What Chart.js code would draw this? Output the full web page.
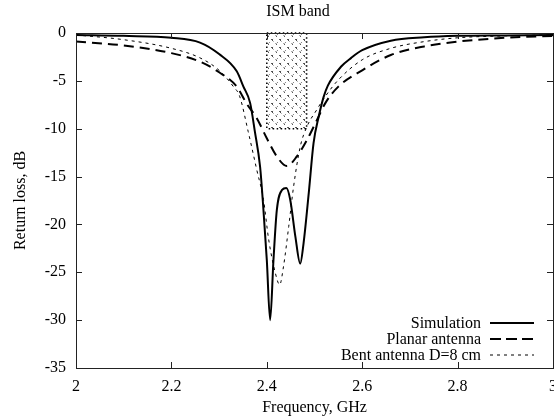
<!DOCTYPE html>
<html>
<head>
<meta charset="utf-8">
<script src="https://cdn.jsdelivr.net/npm/chart.js@4.4.1/dist/chart.umd.min.js"></script>
<style>
  html, body { margin: 0; padding: 0; background: #fff; }
  #wrap { width: 554px; height: 419px; }
</style>
</head>
<body>
<div id="wrap"><canvas id="grafica" width="554" height="419"></canvas></div>
<script>
// ─────────────────────────────────────────
// DATOS
// ─────────────────────────────────────────

const simFreq = [2.00, 2.10, 2.20, 2.26, 2.30, 2.337, 2.351, 2.365, 2.375, 2.386, 2.393, 2.400, 2.407,
                 2.414, 2.421, 2.432, 2.441, 2.449, 2.460, 2.470, 2.477, 2.488, 2.498, 2.509, 2.519,
                 2.528, 2.556, 2.577, 2.600, 2.66, 2.73, 2.80, 2.90, 3.00];
const simLoss = [-0.2, -0.3, -0.5, -1.0, -2.2, -4.0, -5.6, -7.3, -10.3, -14.0, -18.5, -23.7, -30.0,
                 -23.7, -18.5, -16.4, -16.2, -17.4, -21.3, -24.1, -22.0, -16.7, -11.5, -8.7, -6.7,
                 -5.5, -3.5, -2.6, -1.8, -0.8, -0.45, -0.3, -0.25, -0.2];

const planarFreq = [2.00, 2.10, 2.20, 2.26, 2.30, 2.337, 2.358, 2.379, 2.400, 2.421, 2.442, 2.463,
                    2.484, 2.505, 2.523, 2.55, 2.60, 2.66, 2.73, 2.80, 2.90, 3.00];
const planarLoss = [-0.9, -1.3, -2.1, -3.0, -4.1, -5.6, -7.4, -8.9, -11.0, -12.9, -13.9, -12.9,
                    -11.2, -9.1, -7.3, -5.6, -3.9, -2.3, -1.4, -0.9, -0.5, -0.3];

const bentFreq = [2.00, 2.10, 2.20, 2.26, 2.30, 2.33, 2.343, 2.361, 2.379, 2.393, 2.404, 2.418, 2.427,
                  2.435, 2.446, 2.456, 2.470, 2.484, 2.505, 2.523, 2.55, 2.60, 2.66, 2.73, 2.80, 2.90, 3.00];
const bentLoss = [-0.2, -0.7, -1.6, -2.6, -3.9, -5.6, -6.6, -10.3, -14.3, -17.4, -21.6, -25.1, -26.3,
                  -24.4, -20.2, -16.1, -11.9, -9.8, -8.0, -6.6, -4.9, -2.8, -1.6, -0.9, -0.5, -0.3, -0.2];

const seriesNames = ["Simulation", "Planar antenna", "Bent antenna D=8 cm"];

const ismBand  = [2.4, 2.4835];   // GHz
const ismFloor = -10;             // dB

const freqRange = [2, 3];
const lossRange = [-35, 0];

const FONT = "'Liberation Serif', 'Times New Roman', serif";

function pares(xs, ys) {
  return xs.map((x, i) => ({ x, y: ys[i] }));
}

// patrón rayado para la banda ISM
function patronRayado() {
  const c = document.createElement("canvas");
  c.width = 8; c.height = 8;
  const g = c.getContext("2d");
  g.strokeStyle = "#222";
  g.lineWidth = 0.8;
  g.setLineDash([2, 3]);
  g.beginPath();
  g.moveTo(0, 0); g.lineTo(8, 8);
  g.stroke();
  g.setLineDash([1.5, 5]);
  g.beginPath();
  g.moveTo(0, 8); g.lineTo(8, 0);
  g.stroke();
  return g.createPattern(c, "repeat");
}

// ─────────────────────────────────────────
// PLUGINS
// ─────────────────────────────────────────

const bandaISM = {
  id: "bandaISM",
  beforeDatasetsDraw(chart) {
    const { ctx, scales: { x, y } } = chart;
    const x0 = x.getPixelForValue(ismBand[0]);
    const x1 = x.getPixelForValue(ismBand[1]);
    const y0 = y.getPixelForValue(0);
    const y1 = y.getPixelForValue(ismFloor);
    ctx.save();
    ctx.fillStyle = patronRayado();
    ctx.fillRect(x0, y0, x1 - x0, y1 - y0);
    ctx.strokeStyle = "#000";
    ctx.lineWidth = 1.5;
    ctx.setLineDash([1.5, 2.5]);
    ctx.strokeRect(x0, y0, x1 - x0, y1 - y0);
    ctx.restore();
  }
};

const marco = {
  id: "marco",
  afterDatasetsDraw(chart) {
    const { ctx, chartArea: a, scales: { x, y } } = chart;
    const len = 6;
    ctx.save();
    ctx.strokeStyle = "#222";
    ctx.lineWidth = 1;
    ctx.setLineDash([]);
    ctx.beginPath();
    x.ticks.forEach(t => {
      const px = Math.round(x.getPixelForValue(t.value)) + 0.5;
      ctx.moveTo(px, a.bottom); ctx.lineTo(px, a.bottom - len);
      ctx.moveTo(px, a.top);    ctx.lineTo(px, a.top + len);
    });
    y.ticks.forEach(t => {
      const py = Math.round(y.getPixelForValue(t.value)) + 0.5;
      ctx.moveTo(a.left, py);  ctx.lineTo(a.left + len, py);
      ctx.moveTo(a.right, py); ctx.lineTo(a.right - len, py);
    });
    ctx.stroke();
    ctx.strokeRect(Math.round(a.left) + 0.5, Math.round(a.top) + 0.5,
                   Math.round(a.right - a.left), Math.round(a.bottom - a.top));
    ctx.restore();
  }
};

const textos = {
  id: "textos",
  afterDraw(chart) {
    const { ctx } = chart;
    ctx.save();
    ctx.fillStyle = "#000";
    ctx.font = "16px " + FONT;
    ctx.textBaseline = "middle";

    // título
    ctx.textAlign = "center";
    ctx.fillText("ISM band", 298, 12);

    // leyenda
    ctx.textAlign = "right";
    const filas = [324, 340, 356];
    chart.data.datasets.forEach((ds, i) => {
      ctx.fillText(ds.label, 481, filas[i]);
      ctx.beginPath();
      ctx.strokeStyle = "#000";
      ctx.lineWidth = ds.borderWidth;
      ctx.setLineDash(i === 1 ? [11, 5] : (ds.borderDash || []));
      ctx.moveTo(490, filas[i] - 1);
      ctx.lineTo(534, filas[i] - 1);
      ctx.stroke();
    });
    ctx.restore();
  }
};

// ─────────────────────────────────────────
// GRÁFICA
// ─────────────────────────────────────────

new Chart(document.getElementById("grafica"), {
  type: "line",
  data: {
    datasets: [
      {
        label: seriesNames[0],
        data: pares(simFreq, simLoss),
        borderColor: "#000",
        borderWidth: 2,
        pointRadius: 0,
        cubicInterpolationMode: "monotone"
      },
      {
        label: seriesNames[1],
        data: pares(planarFreq, planarLoss),
        borderColor: "#000",
        borderWidth: 2,
        borderDash: [10, 6],
        pointRadius: 0,
        cubicInterpolationMode: "monotone"
      },
      {
        label: seriesNames[2],
        data: pares(bentFreq, bentLoss),
        borderColor: "#000",
        borderWidth: 1,
        borderDash: [3, 4],
        pointRadius: 0,
        cubicInterpolationMode: "monotone"
      }
    ]
  },
  options: {
    responsive: false,
    animation: false,
    devicePixelRatio: 1,
    layout: { padding: { top: 33, right: 1, left: 0, bottom: 0 } },
    plugins: {
      legend: { display: false },
      title: { display: false },
      tooltip: { enabled: false }
    },
    scales: {
      x: {
        type: "linear",
        min: freqRange[0],
        max: freqRange[1],
        grid: { display: false, drawTicks: false },
        border: { display: false },
        ticks: {
          stepSize: 0.2,
          padding: 9,
          color: "#000",
          font: { family: FONT, size: 16 },
          maxRotation: 0,
          autoSkip: false,
          callback: v => String(Math.round(v * 10) / 10)
        },
        title: {
          display: true,
          text: "Frequency, GHz",
          color: "#000",
          font: { family: FONT, size: 16 },
          padding: { top: 0, bottom: 2 }
        },
        afterFit: s => { s.height = 51; s.paddingLeft = 0; s.paddingRight = 0; }
      },
      y: {
        min: lossRange[0],
        max: lossRange[1],
        grid: { display: false, drawTicks: false },
        border: { display: false },
        ticks: {
          stepSize: 5,
          padding: 10,
          color: "#000",
          font: { family: FONT, size: 16 },
          callback: v => String(v)
        },
        title: {
          display: true,
          text: "Return loss, dB",
          color: "#000",
          font: { family: FONT, size: 16 },
          padding: { top: 11, bottom: 0 }
        },
        afterFit: s => { s.width = 76; s.paddingTop = 0; s.paddingBottom = 0; }
      }
    }
  },
  plugins: [bandaISM, marco, textos]
});
</script>
</body>
</html>
